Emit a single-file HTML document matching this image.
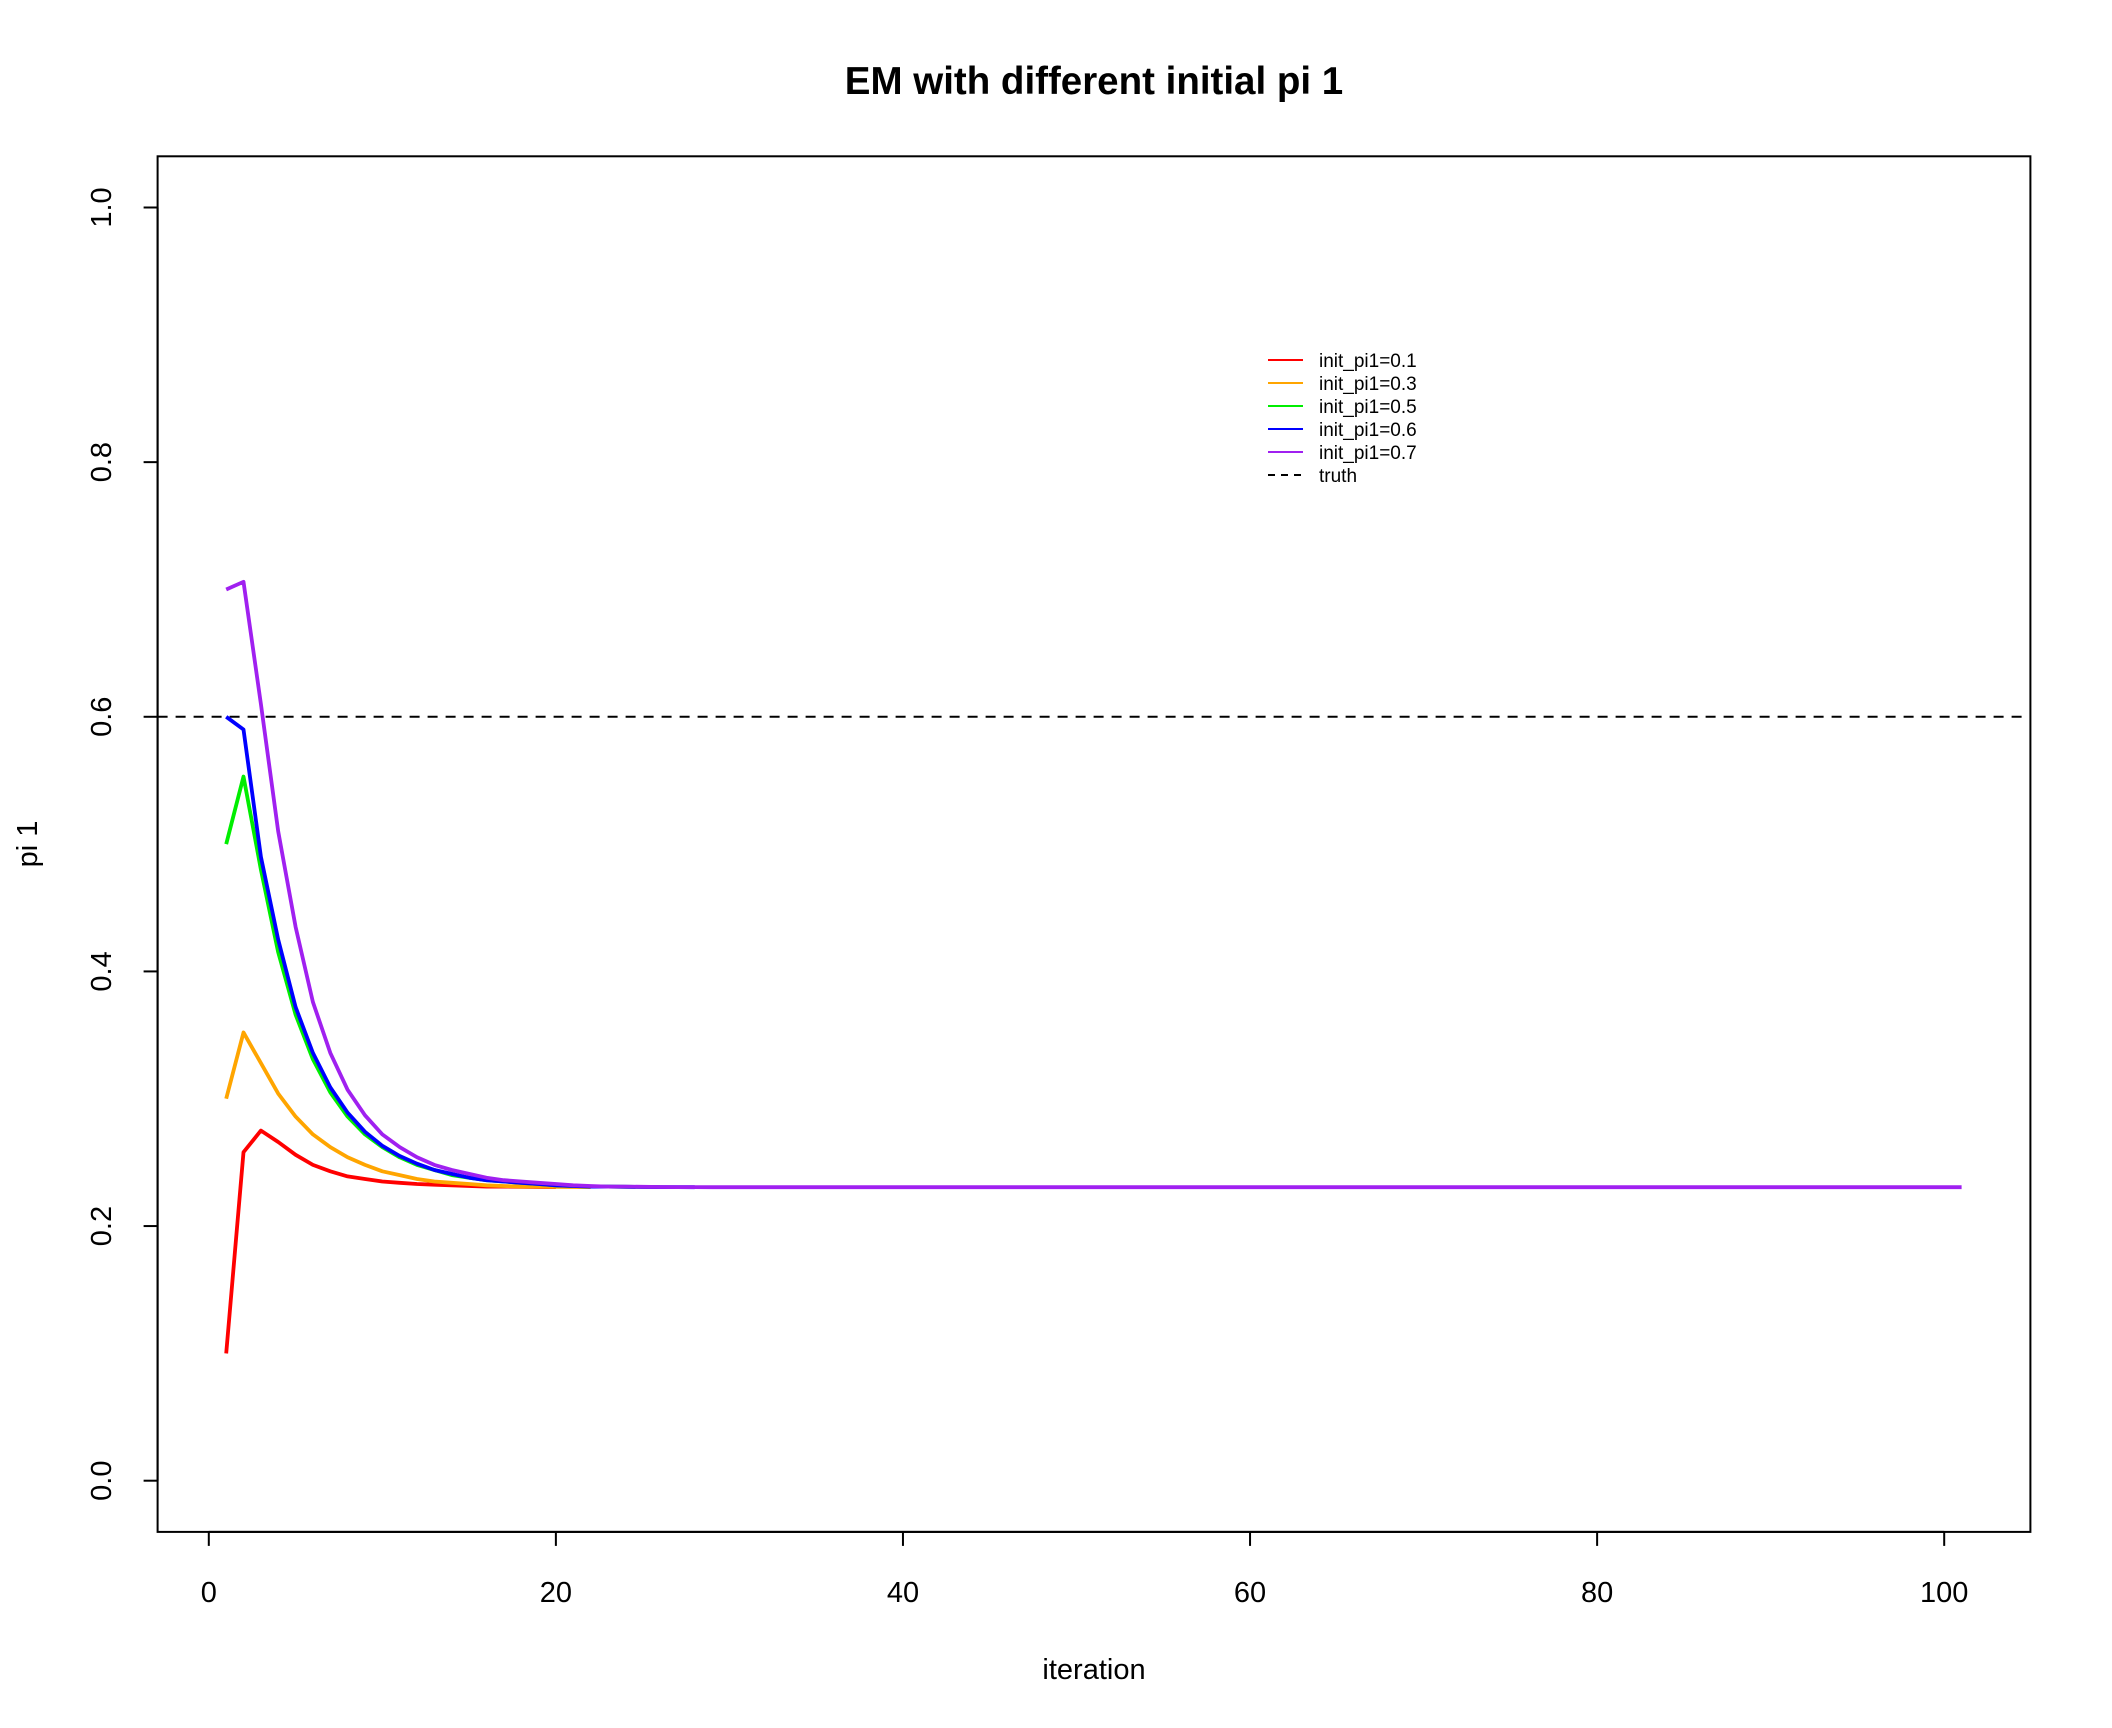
<!DOCTYPE html>
<html><head><meta charset="utf-8"><style>
html,body{margin:0;padding:0;background:#fff;}
svg{display:block;font-family:"Liberation Sans",Arial,sans-serif;}
</style></head><body>
<svg id="chart" width="2112" height="1728" viewBox="0 0 2112 1728" xmlns="http://www.w3.org/2000/svg">
<rect width="2112" height="1728" fill="#fff"/>
<text x="1094" y="94" font-size="38.5" font-weight="bold" text-anchor="middle">EM with different initial pi 1</text>
<rect x="157.6" y="156.3" width="1872.8" height="1375.6" fill="none" stroke="#000" stroke-width="2"/>
<g id="xaxis"></g>
<g id="yaxis"></g>
<g id="series"></g>
<text x="1094" y="1679" font-size="29" text-anchor="middle">iteration</text>
<text transform="translate(37,844) rotate(-90)" font-size="29" text-anchor="middle">pi 1</text>
<g id="legend"></g>
</svg>
<script>
const xTicks = [0,20,40,60,80,100];
const yTicks = [0.0,0.2,0.4,0.6,0.8,1.0];
const yTickLabels = ["0.0","0.2","0.4","0.6","0.8","1.0"];
const truthValue = 0.6;
const seriesNames = ["init_pi1=0.1","init_pi1=0.3","init_pi1=0.5","init_pi1=0.6","init_pi1=0.7"];
const seriesColors = ["#ff0000","#ffa500","#00ee00","#0000ff","#a020f0"];
const redValues = [0.1,0.258,0.275,0.266,0.256,0.248,0.243,0.239,0.237,0.235,0.234,0.233,0.2325,0.232,0.2315,0.231,0.231,0.2308,0.2307,0.2306];
const orangeValues = [0.3,0.352,0.328,0.304,0.286,0.272,0.262,0.254,0.248,0.243,0.240,0.237,0.235,0.234,0.233,0.232,0.2315,0.231,0.231,0.2308,0.2307,0.2306];
const greenValues = [0.5,0.553,0.48,0.415,0.366,0.331,0.305,0.286,0.272,0.262,0.254,0.248,0.244,0.240,0.238,0.236,0.235,0.234,0.233,0.232,0.2315,0.231,0.231,0.2308,0.2307,0.2306];
const blueValues = [0.6,0.59,0.49,0.425,0.372,0.336,0.309,0.289,0.274,0.263,0.255,0.249,0.244,0.241,0.238,0.236,0.235,0.234,0.233,0.232,0.2315,0.231,0.231,0.2308,0.2307,0.2306,0.2306,0.2305];
const purpleValues = [0.7,0.706,0.61,0.51,0.435,0.376,0.336,0.307,0.287,0.272,0.262,0.254,0.248,0.244,0.241,0.238,0.236,0.235,0.234,0.233,0.232,0.2315,0.231,0.231,0.2308,0.2307,0.2306,0.2306,
0.2305,0.2305,0.2305,0.2305,0.2305,0.2305,0.2305,0.2305,0.2305,0.2305,
0.2305,0.2305,0.2305,0.2305,0.2305,0.2305,0.2305,0.2305,0.2305,0.2305,
0.2305,0.2305,0.2305,0.2305,0.2305,0.2305,0.2305,0.2305,0.2305,0.2305,
0.2305,0.2305,0.2305,0.2305,0.2305,0.2305,0.2305,0.2305,0.2305,0.2305,
0.2305,0.2305,0.2305,0.2305,0.2305,0.2305,0.2305,0.2305,0.2305,0.2305,
0.2305,0.2305,0.2305,0.2305,0.2305,0.2305,0.2305,0.2305,0.2305,0.2305,
0.2305,0.2305,0.2305,0.2305,0.2305,0.2305,0.2305,0.2305,0.2305,0.2305,
0.2305,0.2305,0.2305];

const NS="http://www.w3.org/2000/svg";
const BOTTOM=1531.9, LEFT=157.6;
function X(v){return 208.8 + v*17.354;}
function Y(v){return 1480.7 - v*1273.2;}
function mk(tag,attrs,parent){const e=document.createElementNS(NS,tag);for(const k in attrs)e.setAttribute(k,attrs[k]);parent.appendChild(e);return e;}

const xa=document.getElementById('xaxis');
let l=mk('line',{x1:X(xTicks[0]),x2:X(xTicks[xTicks.length-1]),y1:BOTTOM,y2:BOTTOM,stroke:'#000','stroke-width':2},xa);


xTicks.forEach(t=>{
  const tk=mk('line',{x1:X(t),x2:X(t),y1:BOTTOM,y2:BOTTOM+14,stroke:'#000','stroke-width':2},xa);
  
  
  const tx=mk('text',{x:X(t),y:1602,'font-size':29,'text-anchor':'middle'},xa);
  tx.textContent=t;
  
  
});
const ya=document.getElementById('yaxis');
l=mk('line',{x1:LEFT,x2:LEFT,y1:Y(yTicks[0]),y2:Y(yTicks[yTicks.length-1]),stroke:'#000','stroke-width':2},ya);


yTicks.forEach((t,i)=>{
  const tk=mk('line',{x1:LEFT-14,x2:LEFT,y1:Y(t),y2:Y(t),stroke:'#000','stroke-width':2},ya);
  
  
  const tx=mk('text',{transform:`translate(111,${Y(t)}) rotate(-90)`,'font-size':29,'text-anchor':'middle'},ya);
  tx.textContent=yTickLabels[i];
  
  
});

const sg=document.getElementById('series');
const tl=mk('line',{x1:LEFT,x2:2030.4,y1:Y(truthValue),y2:Y(truthValue),stroke:'#000','stroke-width':2,'stroke-dasharray':'10,8'},sg);


const allSeries=[redValues,orangeValues,greenValues,blueValues,purpleValues];
const seriesIds=['series-red','series-orange','series-green','series-blue','series-purple'];
allSeries.forEach((vals,si)=>{
  const d=vals.map((v,i)=>(i?'L':'M')+X(i+1).toFixed(1)+' '+Y(v).toFixed(1)).join(' ');
  const p=mk('path',{d:d,fill:'none',stroke:seriesColors[si],'stroke-width':3.8,'stroke-linejoin':'round'},sg);
  
  
});

const lg=document.getElementById('legend');
const rowsY=[360,383,406,429,452,475];
seriesNames.concat(['truth']).forEach((n,i)=>{
  const isTruth=i===5;
  const ln=mk('line',{x1:1268,x2:1303,y1:rowsY[i],y2:rowsY[i],stroke:isTruth?'#000':seriesColors[i],'stroke-width':2},lg);
  if(isTruth) ln.setAttribute('stroke-dasharray','7,6');
  
  
  const tx=mk('text',{x:1319,y:rowsY[i]+7,'font-size':19},lg);
  tx.textContent=n;
  
  
});
</script>
</body></html>
